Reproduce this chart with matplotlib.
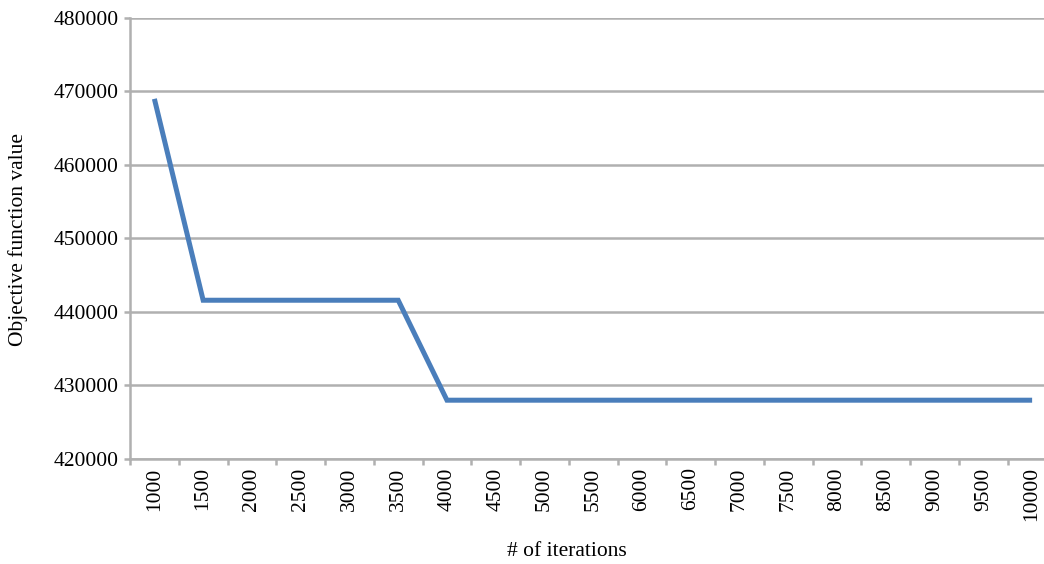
import numpy as np
import matplotlib
matplotlib.use("Agg")
import matplotlib.pyplot as plt

iterations = [1000, 1500, 2000, 2500, 3000, 3500, 4000, 4500, 5000, 5500,
              6000, 6500, 7000, 7500, 8000, 8500, 9000, 9500, 10000]
objective = [469000, 441600, 441600, 441600, 441600, 441600, 428000, 428000,
             428000, 428000, 428000, 428000, 428000, 428000, 428000, 428000,
             428000, 428000, 428000]
y_ticks = [420000, 430000, 440000, 450000, 460000, 470000, 480000]

plt.rcParams["font.family"] = ["Liberation Serif", "DejaVu Serif"]

fig = plt.figure(figsize=(10.44, 5.64), dpi=100)
W, H = 1044, 564
# plot area runs past the right edge (image was cropped)
ax = fig.add_axes([130 / W, 105 / H, 926.5 / W, 441 / H])

x = np.arange(len(iterations))
ax.plot(x, objective, color="#4a7ebb", lw=3.6, solid_capstyle="butt",
        solid_joinstyle="miter", zorder=3)

ax.set_xlim(-0.5, len(iterations) - 0.5)
ax.set_ylim(y_ticks[0], y_ticks[-1])

grid_c = "#b0b0b0"
ax.set_yticks(y_ticks)
ax.set_yticklabels([str(v) for v in y_ticks], fontsize=15.5)
ax.yaxis.grid(True, color=grid_c, lw=1.8)
ax.set_axisbelow(True)

# ticks on category boundaries, labels at centers
ax.set_xticks(np.arange(len(iterations) + 1) - 0.5)
ax.set_xticklabels([])
ax.set_xticks(x, minor=True)
ax.set_xticklabels([str(v) for v in iterations], minor=True,
                   rotation=90, fontsize=15.5)
ax.tick_params(axis="x", which="major", length=4.5, width=1.8, color=grid_c)
ax.tick_params(axis="x", which="minor", length=0, pad=6)
ax.tick_params(axis="y", length=4.5, width=1.8, color=grid_c, pad=3.5)

for s in ["top", "right"]:
    ax.spines[s].set_visible(False)
for s in ["left", "bottom"]:
    ax.spines[s].set_color(grid_c)
    ax.spines[s].set_linewidth(1.8)

fig.text(18 / W, 1 - 240 / H, "Objective function value", rotation=90,
         ha="center", va="center", fontsize=15.5)
fig.text(567 / W, 1 - 551 / H, "# of iterations", ha="center", va="center",
         fontsize=15.5)

fig.savefig("out.png", dpi=100, facecolor="white")
